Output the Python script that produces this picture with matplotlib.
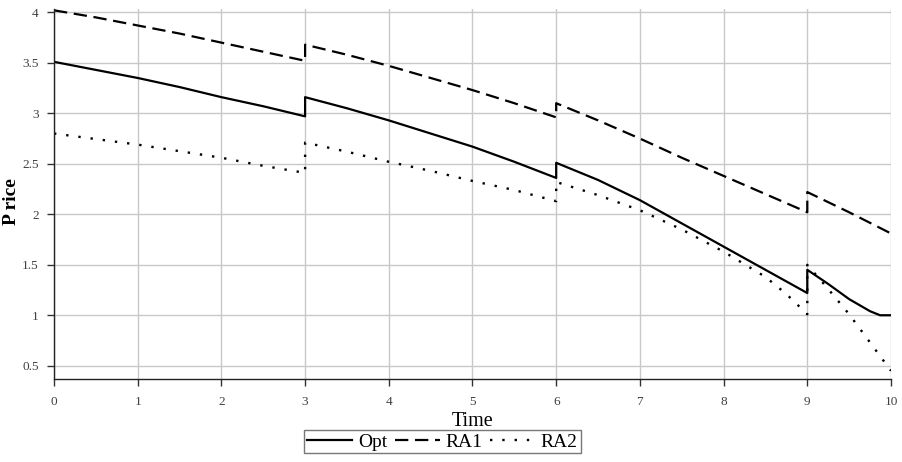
import matplotlib
matplotlib.use("Agg")
import matplotlib.pyplot as plt

t_opt = [0, 0.5, 1, 1.5, 2, 2.5, 3, 3, 3.5, 4, 4.5, 5, 5.5, 6, 6, 6.5, 7, 7.5, 8, 8.5, 9,
         9, 9.25, 9.5, 9.75, 9.87, 10]
opt = [3.51, 3.43, 3.35, 3.26, 3.16, 3.07, 2.97, 3.16, 3.05, 2.93, 2.80, 2.67, 2.52, 2.36,
       2.51, 2.34, 2.14, 1.91, 1.68, 1.45, 1.22, 1.45, 1.31, 1.16, 1.04, 1.00, 1.00]

t_ra1 = [0, 0.5, 1, 1.5, 2, 2.5, 3, 3, 3.5, 4, 4.5, 5, 5.5, 6, 6, 6.5, 7, 7.5, 8, 8.5, 9,
         9, 9.5, 10]
ra1 = [4.02, 3.95, 3.87, 3.79, 3.70, 3.61, 3.52, 3.68, 3.58, 3.47, 3.35, 3.23, 3.10, 2.96,
       3.10, 2.93, 2.75, 2.56, 2.38, 2.20, 2.02, 2.22, 2.02, 1.81]

t_ra2 = [0, 1, 2, 2.5, 3, 3, 3.5, 4, 4.5, 5, 5.5, 6, 6, 6.5, 7, 7.5, 8, 8.5, 8.75, 9,
         9, 9.25, 9.5, 9.75, 10]
ra2 = [2.80, 2.69, 2.56, 2.48, 2.41, 2.71, 2.62, 2.52, 2.43, 2.33, 2.24, 2.13, 2.32, 2.19,
       2.04, 1.85, 1.63, 1.38, 1.21, 1.01, 1.50, 1.26, 1.01, 0.73, 0.45]

x_ticks = list(range(0, 11))
y_ticks = [0.5, 1, 1.5, 2, 2.5, 3, 3.5, 4]
y_tick_labels = ["0.5", "1", "1.5", "2", "2.5", "3", "3.5", "4"]

plt.rcParams['font.family'] = ['Liberation Serif', 'DejaVu Serif']

fig = plt.figure(figsize=(9.03, 4.62), dpi=100)
ax = fig.add_axes([0.0598, 0.1797, 0.9269, 0.8008])

ax.plot(t_opt, opt, color='black', lw=1.6, label='Opt')
ax.plot(t_ra1, ra1, color='black', lw=1.6, dashes=(6, 3), label='RA1')
ax.plot(t_ra2, ra2, color='black', lw=1.7, linestyle=(0, (1, 4.2)), label='RA2')

ax.set_xlim(0, 10)
ax.set_ylim(0.369, 4.033)
ax.set_xticks(x_ticks)
ax.set_xticklabels([str(v) for v in x_ticks])
ax.set_yticks(y_ticks)
ax.set_yticklabels(y_tick_labels)
ax.grid(True, color='#c8c8c8', lw=1.0)
ax.set_axisbelow(True)
for s in ['top', 'right']:
    ax.spines[s].set_visible(False)
for s in ['left', 'bottom']:
    ax.spines[s].set_color('#222222')
    ax.spines[s].set_linewidth(1.0)
ax.tick_params(axis='both', direction='out', length=5, width=1, labelsize=9.5,
               labelcolor='#404040', color='#333333')
ax.tick_params(axis='x', pad=7)
ax.tick_params(axis='y', pad=6)

ax.set_xlabel('Time', fontsize=14.5)
ax.xaxis.set_label_coords(0.5, -0.09)
ax.set_ylabel('P rice', fontsize=14, fontweight='bold')
ax.yaxis.set_label_coords(-0.041, 0.48)

leg = fig.legend(loc='upper center', bbox_to_anchor=(0.49, 1 - 430 / 462), ncol=3, frameon=True,
                 fontsize=14, fancybox=False, edgecolor='#555555', handlelength=2.3,
                 handletextpad=0.3, columnspacing=0.4, borderpad=0.15, borderaxespad=0.0)
leg.get_frame().set_linewidth(1.0)

fig.savefig('out.png', dpi=100)
